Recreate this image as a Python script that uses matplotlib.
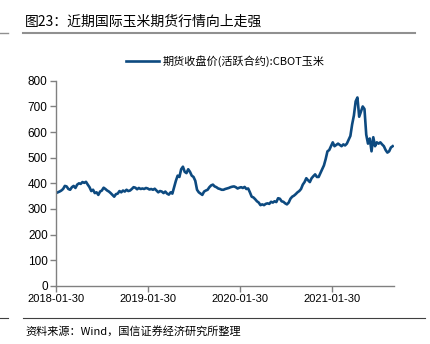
import matplotlib
matplotlib.use('Agg')
import matplotlib.pyplot as plt
import pandas as pd

plt.rcParams['font.family'] = ['Liberation Sans', 'Noto Sans CJK SC', 'DejaVu Sans']

# CBOT 玉米期货收盘价（活跃合约），周度读数，起点 2018-01-30
start = '2018-01-30'
price = [
    # 2018
    362, 365, 368, 372, 378, 390, 388, 378, 375, 385, 390, 382, 395, 400, 398, 405,
    402, 406, 395, 385, 370, 375, 362, 365, 355, 368, 372, 383, 378, 372, 368, 362,
    355, 348, 358, 360, 370, 365, 372, 368, 375, 370, 372, 378, 385, 383, 377, 382,
    # 2019
    378, 380, 378, 382, 380, 376, 378, 375, 379, 372, 365, 370, 368, 362, 368, 360,
    356, 365, 360, 385, 410, 430, 425, 455, 465, 445, 440, 455, 445, 430, 425, 410,
    375, 365, 360, 355, 368, 372, 375, 385, 392, 395, 388, 385, 380, 378, 375, 375,
    378, 380, 382, 385, 387,
    # 2020
    388, 385, 380, 383, 385, 382, 386, 378, 380, 365, 348, 345, 338, 330, 325, 315,
    318, 315, 320, 322, 320, 328, 325, 330, 327, 342, 340, 330, 328, 322, 318, 325,
    340, 348, 352, 358, 365, 370, 378, 395, 405, 420, 412, 405, 420, 428, 435, 425,
    425, 440, 455, 470,
    # 2021
    495, 525, 530, 545, 560, 545, 550, 555, 550, 545, 552, 548, 555, 570, 585, 630,
    665, 720, 735, 660, 680, 700, 690, 590, 555, 575, 525, 580, 545, 560, 555, 560,
    552, 545, 530, 520, 525, 540, 545,
]
dates = pd.date_range(start, periods=len(price), freq='7D')

tick_dates = pd.to_datetime(['2018-01-30', '2019-01-30', '2020-01-30', '2021-01-30'])
tick_labels = ['2018-01-30', '2019-01-30', '2020-01-30', '2021-01-30']
yticks = [0, 100, 200, 300, 400, 500, 600, 700, 800]

title = '图23：近期国际玉米期货行情向上走强'
legend_label = '期货收盘价(活跃合约):CBOT玉米'
source = '资料来源：Wind，国信证券经济研究所整理'

cjk = ['Noto Sans CJK SC', 'DejaVu Sans']

fig = plt.figure(figsize=(4.31, 3.44), dpi=100)
ax = fig.add_axes([0.130, 0.169, 0.784, 0.596])

ax.plot(dates, price, color='#0d4a80', linewidth=1.9, label=legend_label)

ax.set_ylim(0, 800)
ax.set_yticks(yticks)
ax.set_xlim(pd.Timestamp('2018-01-30'), pd.Timestamp('2021-10-03'))
ax.set_xticks(tick_dates)
ax.set_xticklabels(tick_labels)

for s in ['top', 'right']:
    ax.spines[s].set_visible(False)
for s in ['left', 'bottom']:
    ax.spines[s].set_color('#808080')
    ax.spines[s].set_linewidth(1.0)
ax.tick_params(axis='both', colors='#808080', labelcolor='black', labelsize=8,
               length=4, width=1.0, direction='out', pad=2)
ax.tick_params(axis='y', labelsize=8.5)

ax.legend(loc='lower center', bbox_to_anchor=(0.5, 1.02), frameon=False,
          handlelength=3.0, handletextpad=0.3,
          prop={'family': cjk, 'size': 8})

fig.text(25 / 431, 1 - 22 / 344, title, fontsize=10, va='center', ha='left', family=cjk)
fig.text(25 / 431, 1 - 331 / 344, source, fontsize=8, va='center', ha='left', family=cjk)

# 分隔线
fig.add_artist(plt.Line2D([23 / 431, 415 / 431], [1 - 33 / 344] * 2, color='#909090', linewidth=1.5))
fig.add_artist(plt.Line2D([0, 8 / 431], [1 - 33 / 344] * 2, color='#909090', linewidth=1.0))
fig.add_artist(plt.Line2D([23 / 431, 425 / 431], [1 - 318 / 344] * 2, color='#404040', linewidth=0.8))
fig.add_artist(plt.Line2D([0, 8 / 431], [1 - 318 / 344] * 2, color='#404040', linewidth=0.8))

fig.savefig('out.png', dpi=100)
